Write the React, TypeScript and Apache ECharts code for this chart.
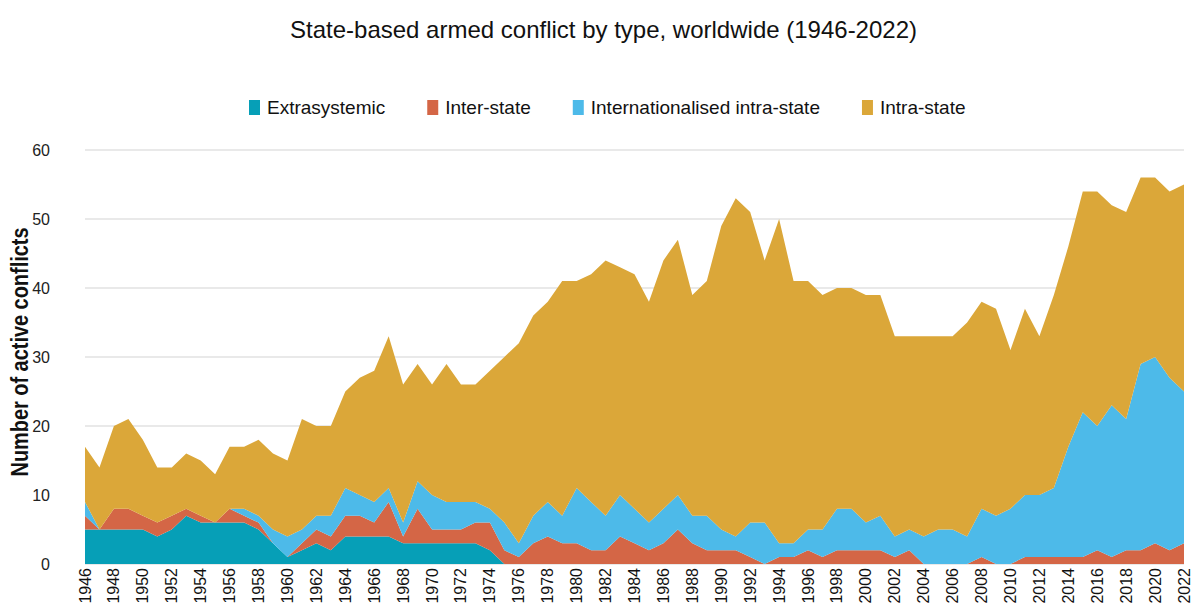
import React, { useEffect, useRef } from "react";
import * as echarts from "echarts";

const years: string[] = [];
for (let y = 1946; y <= 2022; y++) years.push(String(y));

const extrasystemic = [
  5, 5, 5, 5, 5, 4, 5, 7, 6, 6, 6, 6, 5, 3, 1, 2, 3, 2, 4, 4,
  4, 4, 3, 3, 3, 3, 3, 3, 2, 0, 0, 0, 0, 0, 0, 0, 0, 0, 0, 0,
  0, 0, 0, 0, 0, 0, 0, 0, 0, 0, 0, 0, 0, 0, 0, 0, 0, 0, 0, 0,
  0, 0, 0, 0, 0, 0, 0, 0, 0, 0, 0, 0, 0, 0, 0, 0, 0,
];

const interState = [
  2, 0, 3, 3, 2, 2, 2, 1, 1, 0, 2, 1, 1, 0, 0, 1, 2, 2, 3, 3,
  2, 5, 1, 5, 2, 2, 2, 3, 4, 2, 1, 3, 4, 3, 3, 2, 2, 4, 3, 2,
  3, 5, 3, 2, 2, 2, 1, 0, 1, 1, 2, 1, 2, 2, 2, 2, 1, 2, 0, 0,
  0, 0, 1, 0, 0, 1, 1, 1, 1, 1, 2, 1, 2, 2, 3, 2, 3,
];

const internationalised = [
  2, 0, 0, 0, 0, 0, 0, 0, 0, 0, 0, 1, 1, 2, 3, 2, 2, 3, 4, 3,
  3, 2, 2, 4, 5, 4, 4, 3, 2, 4, 2, 4, 5, 4, 8, 7, 5, 6, 5, 4,
  5, 5, 4, 5, 3, 2, 5, 6, 2, 2, 3, 4, 6, 6, 4, 5, 3, 3, 4, 5,
  5, 4, 7, 7, 8, 9, 9, 10, 16, 21, 18, 22, 19, 27, 27, 25, 22,
];

const intraState = [
  8, 9, 12, 13, 11, 8, 7, 8, 8, 7, 9, 9, 11, 11, 11, 16, 13, 13, 14, 17,
  19, 22, 20, 17, 16, 20, 17, 17, 20, 24, 29, 29, 29, 34, 30, 33, 37, 33, 34, 32,
  36, 37, 32, 34, 44, 49, 45, 38, 47, 38, 36, 34, 32, 32, 33, 32, 29, 28, 29, 28,
  28, 31, 30, 30, 23, 27, 23, 28, 29, 32, 34, 29, 30, 27, 26, 27, 30,
];

const seriesNames = [
  "Extrasystemic",
  "Inter-state",
  "Internationalised intra-state",
  "Intra-state",
];
const seriesColors = ["#069FB7", "#D46646", "#4DBAE9", "#DBA739"];
const seriesData = [extrasystemic, interState, internationalised, intraState];

const yAxisTitle = "Number of active conflicts";
const chartTitle = "State-based armed conflict by type, worldwide (1946-2022)";

const FONT = "'Liberation Sans', Arial, sans-serif";

export default function App() {
  const ref = useRef<HTMLDivElement>(null);

  useEffect(() => {
    if (!ref.current) return;
    const chart = echarts.init(ref.current, undefined, { renderer: "svg" });
    chart.setOption({
      animation: false,
      backgroundColor: "#ffffff",
      textStyle: { fontFamily: FONT },
      title: {
        text: chartTitle,
        left: 290,
        top: 17,
        padding: 0,
        textStyle: {
          fontFamily: FONT,
          fontSize: 24,
          fontWeight: "normal",
          color: "#111111",
        },
      },
      legend: {
        top: 98,
        left: 249,
        padding: 0,
        itemGap: 42,
        itemWidth: 11,
        itemHeight: 15,
        icon: "rect",
        data: seriesNames,
        textStyle: { fontFamily: FONT, fontSize: 19, color: "#111111", padding: [0, 0, 0, 2] },
      },
      graphic: [
        {
          type: "text",
          x: 20,
          y: 352,
          rotation: Math.PI / 2,
          scaleX: 0.83,
          scaleY: 1,
          style: {
            text: yAxisTitle,
            font: "bold 24px 'Liberation Sans', Arial, sans-serif",
            fill: "#111111",
            align: "center",
            verticalAlign: "middle",
          },
        },
      ],
      grid: {
        left: 85,
        right: 8,
        top: 150,
        bottom: 39,
        containLabel: false,
        outerBoundsMode: "none",
      },
      xAxis: {
        type: "category",
        data: years,
        boundaryGap: false,
        axisLine: { show: false },
        axisTick: { show: false },
        axisLabel: {
          interval: 1,
          rotate: 90,
          fontSize: 16,
          color: "#111111",
          margin: 4,
          fontFamily: FONT,
        },
        splitLine: { show: false },
      },
      yAxis: {
        type: "value",
        min: 0,
        max: 60,
        interval: 10,
        axisLine: { show: false },
        axisTick: { show: false },
        axisLabel: { fontSize: 16, color: "#222222", margin: 35, fontFamily: FONT },
        splitLine: { lineStyle: { color: "#e2e2e2", width: 1.5 } },
      },
      series: seriesNames.map((name, i) => ({
        name,
        type: "line",
        stack: "total",
        data: seriesData[i],
        symbol: "none",
        showSymbol: false,
        lineStyle: { width: 0 },
        itemStyle: { color: seriesColors[i] },
        areaStyle: { color: seriesColors[i], opacity: 1 },
        emphasis: { disabled: true },
      })),
    });
    return () => chart.dispose();
  }, []);

  return (
    <div
      ref={ref}
      style={{ position: "fixed", left: 0, top: 0, width: 1192, height: 603 }}
    />
  );
}
